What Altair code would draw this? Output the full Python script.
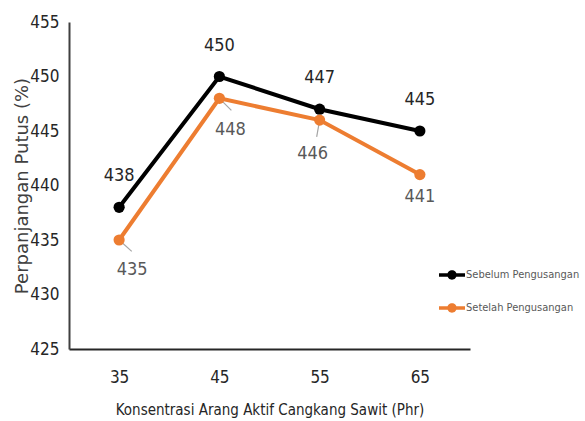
import altair as alt
import pandas as pd

# Concentration of palm-shell activated charcoal (phr)
konsentrasi = [35, 45, 55, 65]
# Elongation at break (%) before and after ageing
sebelum = [438, 450, 447, 445]
setelah = [435, 448, 446, 441]
seri = ["Sebelum Pengusangan", "Setelah Pengusangan"]
warna = ["#000000", "#ED7D31"]

# pixel placement of the "after" value labels and their leader lines
label_dx = [13, 11, -7, 0]
label_dy = [30, 32, 34, 22]
leader_angle = [42, 45, 100, 0]
leader_len = [17, 17, 17, 0]

W, H = 401, 327
X_DOM, Y_DOM = [30, 70], [425, 455]
PX_X = W / (X_DOM[1] - X_DOM[0])
PX_Y = H / (Y_DOM[1] - Y_DOM[0])

rows = []
for i, k in enumerate(konsentrasi):
    rows.append({"k": k, "v": sebelum[i], "seri": seri[0], "lx": k, "ly": sebelum[i],
                 "ang": 0, "size": 0})
    rows.append({"k": k, "v": setelah[i], "seri": seri[1],
                 "lx": k + label_dx[i] / PX_X, "ly": setelah[i] - label_dy[i] / PX_Y,
                 "ang": leader_angle[i], "size": (2 * leader_len[i]) ** 2})
df = pd.DataFrame(rows)

NARROW = "'Liberation Sans Narrow', 'DejaVu Sans Condensed', 'Arial Narrow', Roboto, sans-serif"

xs = alt.Scale(domain=X_DOM, nice=False)
ys = alt.Scale(domain=Y_DOM, nice=False, zero=False)

x = alt.X("k:Q", scale=xs,
          axis=alt.Axis(values=konsentrasi, title="Konsentrasi Arang Aktif Cangkang Sawit (Phr)",
                        grid=False, ticks=False, domainColor="#262626", domainWidth=2,
                        labelFont=NARROW, labelFontSize=17, labelColor="#262626",
                        labelPadding=20, titleFont=NARROW, titleFontSize=15,
                        titleFontWeight="normal", titleColor="#262626", titlePadding=17))
y = alt.Y("v:Q", scale=ys,
          axis=alt.Axis(values=list(range(425, 456, 5)), title="Perpanjangan Putus (%)",
                        grid=False, ticks=False, domainColor="#404040", domainWidth=2,
                        labelFont=NARROW, labelFontSize=17, labelColor="#262626",
                        labelPadding=10, titleFont="'DejaVu Sans', sans-serif",
                        titleFontSize=18, titleFontWeight="normal", titleColor="#404040",
                        titlePadding=-2))
cscale = alt.Scale(domain=seri, range=warna)
legend = alt.Legend(title=None, orient="none", legendX=370, legendY=240,
                    symbolType="M-1,-0.14H1V0.14H-1Z M0.36,0A0.36,0.36 0 1,1 -0.36,0A0.36,0.36 0 1,1 0.36,0Z",
                    symbolSize=676, symbolStrokeWidth=0, labelFont=NARROW,
                    labelFontSize=11, labelColor="#595959", labelOffset=1, rowPadding=15)

base = alt.Chart(df).encode(x=x, y=y)

leaders = alt.Chart(df[df["seri"] == seri[1]]).mark_point(
    shape="M0,0L1,0", filled=False, stroke="#A6A6A6", strokeWidth=1.2, opacity=1
).encode(x=x, y=y, angle=alt.Angle("ang:Q", scale=None), size=alt.Size("size:Q", scale=None))

lines = base.mark_line(strokeWidth=4).encode(color=alt.Color("seri:N", scale=cscale, legend=None))
points = base.mark_point(filled=True, size=125, opacity=1).encode(
    color=alt.Color("seri:N", scale=cscale, legend=legend))

lab_before = alt.Chart(df[df["seri"] == seri[0]]).mark_text(
    font=NARROW, fontSize=18, color="#262626", dy=-31
).encode(x=alt.X("lx:Q", scale=xs), y=alt.Y("ly:Q", scale=ys), text="v:Q")

lab_after = alt.Chart(df[df["seri"] == seri[1]]).mark_text(
    font=NARROW, fontSize=18, color="#595959"
).encode(x=alt.X("lx:Q", scale=xs), y=alt.Y("ly:Q", scale=ys), text="v:Q")

chart = alt.layer(leaders, lines, points, lab_before, lab_after).resolve_legend(
    color="independent"
).properties(
    width=W, height=H,
    background="white",
    autosize=alt.AutoSizeParams(type="none"),
    padding={"left": 69, "top": 22, "right": 115, "bottom": 72},
).configure_view(stroke=None)

chart.save("out.html", embed_options={"renderer": "svg", "actions": False})
